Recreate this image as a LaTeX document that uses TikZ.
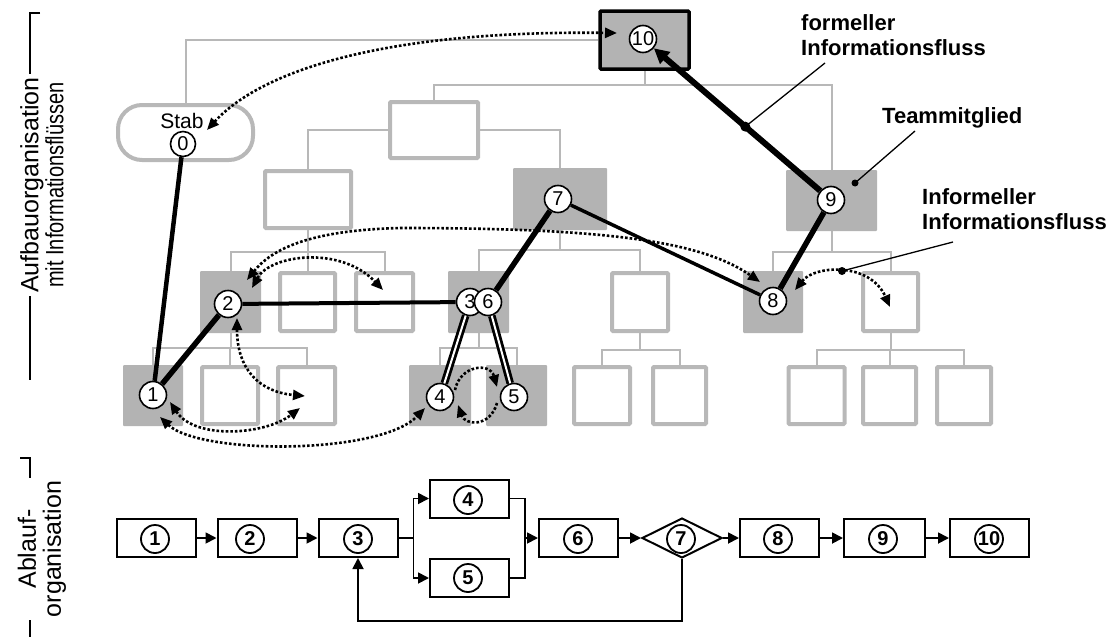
\documentclass[tikz,border=0pt]{standalone}
\usepackage{fontspec}
\setmainfont{Liberation Sans}
\usetikzlibrary{arrows.meta,shapes.geometric,shapes.misc,backgrounds,calc}
\definecolor{og}{RGB}{184,184,184}
\definecolor{fg}{RGB}{179,179,179}
\pgfdeclarelayer{tree}
\pgfdeclarelayer{boxes}
\pgfsetlayers{tree,boxes,main}
\tikzset{
  orgl/.style={draw=og,line width=2pt},
  wbox/.style 2 args={draw=og,line width=4pt,fill=white,minimum width=#1,minimum height=#2,inner sep=0pt,rounded corners=1pt},
  gbox/.style 2 args={fill=fg,minimum width=#1,minimum height=#2,inner sep=0pt,rounded corners=1pt},
  num/.style={circle,draw=black,fill=white,line width=1.6pt,inner sep=0pt,minimum size=27pt,font=\fontsize{20}{20}\selectfont},
  dbl/.style={line width=2.8pt,double=white,double distance=2pt},
  inf/.style={line width=2.6pt,dash pattern=on 2.6pt off 2pt},
  tip/.style={-{Triangle[length=12pt,width=10pt]}},
  tips/.style={{Triangle[length=12pt,width=10pt]}-{Triangle[length=12pt,width=10pt]}},
  lab/.style={font=\bfseries\fontsize{22}{25}\selectfont,align=left,inner sep=0pt},
  proc/.style={chamfered rectangle,chamfered rectangle sep=3pt,draw=black,line width=2pt,minimum width=79pt,minimum height=38pt,inner sep=0pt},
  pnum/.style={circle,draw=black,line width=1.8pt,minimum size=28pt,inner sep=0pt,font=\bfseries\fontsize{20}{20}\selectfont},
  arr/.style={line width=1.8pt,-{Triangle[length=11pt,width=11pt]}},
  side/.style={rotate=90,fill=white,align=center,inner sep=3pt,font=\fontsize{25}{25}\selectfont}
}
\begin{document}
\begin{tikzpicture}[x=1pt,y=-1pt]
\useasboundingbox (0,0) rectangle (1111,637);

% ---------- boxes of the organisation chart ----------
\begin{pgfonlayer}{boxes}
\node[gbox={89}{58},draw=black,line width=3.5pt] (B10) at (644.5,40) {};
\node[draw=og,line width=4pt,fill=white,rounded corners=24pt,minimum width=135pt,minimum height=55pt] (Stab) at (185.5,132.5) {};
\node[wbox={88}{56}] (Bm) at (434,130) {};
\node[wbox={86}{57}] (Bl) at (308,199.5) {};
\node[gbox={94}{62}] (B7) at (560,199) {};
\node[gbox={91}{61}] (B9) at (831.5,200.5) {};
% level 3
\node[gbox={61}{62}] (B2) at (230.5,302) {};
\node[wbox={55}{58}] (W1) at (307.5,302) {};
\node[wbox={57}{58}] (W2) at (384.5,302) {};
\node[gbox={61}{62}] (B36) at (478.5,302) {};
\node[wbox={56}{58}] (W3) at (640,302) {};
\node[gbox={60}{62}] (B8) at (773,302) {};
\node[wbox={55}{58}] (W4) at (890.5,302) {};
% level 4
\node[gbox={60}{61}] (B1) at (153,395.5) {};
\node[wbox={56}{57}] (W5) at (230,395.5) {};
\node[wbox={57}{57}] (W6) at (306.5,395.5) {};
\node[gbox={62}{61}] (B4) at (440,395.5) {};
\node[gbox={61}{61}] (B5) at (516.5,395.5) {};
\node[wbox={56}{57}] (W7) at (602,395.5) {};
\node[wbox={53}{57}] (W8) at (679.5,395.5) {};
\node[wbox={56}{57}] (W9) at (816.5,395.5) {};
\node[wbox={53}{57}] (W10) at (889.5,395.5) {};
\node[wbox={54}{57}] (W11) at (964,395.5) {};
\end{pgfonlayer}

% ---------- tree lines ----------
\begin{pgfonlayer}{tree}
\draw[orgl] (B10.west) -- (Stab.north |- B10.west) -- (Stab.north);
\draw[orgl] (B10.south) -- ++(0,14) coordinate (t1);
\draw[orgl] (Bm.north) |- (t1);
\draw[orgl] (B9.north) |- (t1);
\draw[orgl] (Bl.north) |- (Bm.west);
\draw[orgl] (B7.north) |- (Bm.east);
\draw[orgl] (Bl.south) -- ++(0,22) -| (B2.north);
\draw[orgl] (Bl.south) -- ++(0,22) -| (W1.north);
\draw[orgl] (Bl.south) -- ++(0,22) -| (W2.north);
\draw[orgl] (B2.south) -- ++(0,15) -| (B1.north);
\draw[orgl] (B2.south) -- ++(0,15) -| (W5.north);
\draw[orgl] (B2.south) -- ++(0,15) -| (W6.north);
\draw[orgl] (B7.south) -- ++(0,20) -| (B36.north);
\draw[orgl] (B7.south) -- ++(0,20) -| (W3.north);
\draw[orgl] (B36.south) -- ++(0,15) -| (B4.north);
\draw[orgl] (B36.south) -- ++(0,15) -| (B5.north);
\draw[orgl] (W3.south) -- ++(0,17) -| (W7.north);
\draw[orgl] (W3.south) -- ++(0,17) -| (W8.north);
\draw[orgl] (B9.south) -- ++(0,21) -| (B8.north);
\draw[orgl] (B9.south) -- ++(0,21) -| (W4.north);
\draw[orgl] (W4.south) -- ++(0,17) -| (W9.north);
\draw[orgl] (W4.south) -- ++(0,17) -| (W10.north);
\draw[orgl] (W4.south) -- ++(0,17) -| (W11.north);
\end{pgfonlayer}

% ---------- circles ----------
\node[font=\fontsize{21}{21}\selectfont,inner sep=0pt] (stabt) at (182,121) {Stab};
\node[num,minimum size=25pt] (c0) at (183,144) {0};
\node[num] (c10) at (643,39) {10};
\node[num] (c9) at (831,200) {9};
\node[num] (c8) at (773,301) {8};
\node[num] (c7) at (558,199) {7};
\node[num] (c3) at (470,302) {3};
\node[num] (c6) at (488,302) {6};
\node[num] (c2) at (228,304) {2};
\node[num] (c1) at (153,395) {1};
\node[num] (c4) at (440,397) {4};
\node[num] (c5) at (514,397) {5};

% ---------- formal flows ----------
\draw[line width=4.5pt] (c0) -- (c1);
\draw[line width=5.5pt] (c1) -- (c2);
\draw[line width=4pt] (c2) -- (c3);
\draw[dbl] (c3) -- (c4);
\draw[dbl] (c6) -- (c5);
\draw[line width=5.5pt] (c6) -- (c7);
\draw[line width=3.5pt] (c7) -- (c8);
\draw[line width=5.5pt] (c8) -- (c9);
\draw[line width=6pt,-{Triangle[length=15pt,width=15pt]}] (c9) -- (c10) coordinate[pos=0.45] (fdot);

% ---------- informal flows ----------
\coordinate (i1a) at (207,130); \coordinate (i1b) at (617,33);
\draw[inf,tips] (i1a) .. controls (260,72) and (380,30) .. (i1b);
\coordinate (i2a) at (247,280); \coordinate (i2m) at (400,228); \coordinate (i2b) at (760,282);
\draw[inf,tips] (i2a) .. controls (275,245) and (320,230) .. (i2m) .. controls (600,228) and (700,240) .. (i2b);
\coordinate (i3a) at (252,288); \coordinate (i3b) at (383,290);
\draw[inf,tips] (i3a) .. controls (270,255) and (340,245) .. (i3b);
\coordinate (i4a) at (237,318); \coordinate (i4b) at (305,396);
\draw[inf,tips] (i4a) .. controls (237,370) and (260,392) .. (i4b);
\coordinate (i5a) at (170,402); \coordinate (i5b) at (300,408);
\draw[inf,tips] (i5a) .. controls (195,440) and (265,435) .. (i5b);
\coordinate (i6a) at (160,417); \coordinate (i6b) at (425,408);
\draw[inf,tips] (i6a) .. controls (200,455) and (380,455) .. (i6b);
\coordinate (i7a) at (455,390); \coordinate (i7b) at (497,387);
\draw[inf,tip] (i7a) .. controls (460,365) and (490,362) .. (i7b);
\coordinate (i7c) at (497,403); \coordinate (i7d) at (458,405);
\draw[inf,tip] (i7c) .. controls (490,428) and (465,425) .. (i7d);
\coordinate (i8a) at (795,290); \coordinate (i8b) at (890,307);
\draw[inf,tips] (i8a) .. controls (815,265) and (870,262) .. (i8b);
\coordinate (i8dot) at (842,271);

% ---------- callouts ----------
\node[lab,anchor=north west] (Lf) at (801,14) {formeller\\Informationsfluss};
\node[lab,anchor=west] (Lt) at (882,118) {Teammitglied};
\node[lab,anchor=north west] (Li) at (922,188) {Informeller\\Informationsfluss};
\coordinate (lf) at (825,63);
\coordinate (tdot) at (855,183);
\coordinate (lt) at (915,131);
\coordinate (li) at (953,242);
\fill (fdot) circle (5pt);
\draw[line width=1.3pt] (fdot) -- (lf);
\fill (tdot) circle (3.5pt);
\draw[line width=1.3pt] (tdot) -- (lt);
\fill (i8dot) circle (4pt);
\draw[line width=1.3pt] (i8dot) -- (li);

% ---------- process (Ablauforganisation) ----------
\node[proc] (P1) at (156.5,538) {};
\node[proc] (P2) at (257,538) {};
\node[proc] (P3) at (358,538) {};
\node[proc] (P4) at (469.5,498.5) {};
\node[proc] (P5) at (469.5,578) {};
\node[proc] (P6) at (578.5,538) {};
\node[diamond,aspect=2,draw=black,line width=2pt,minimum width=80pt,minimum height=40pt,inner sep=0pt] (D7) at (682,538) {};
\node[proc] (P8) at (779.5,538) {};
\node[proc,minimum width=81pt] (P9) at (884.5,538) {};
\node[proc] (P10) at (989.5,538) {};
\node[pnum] (q1) at (155,539) {1};
\node[pnum] (q2) at (250,539) {2};
\node[pnum] (q3) at (358,539) {3};
\node[pnum] (q4) at (468,500) {4};
\node[pnum] (q5) at (468,578) {5};
\node[pnum] (q6) at (578,539) {6};
\node[pnum] (q7) at (681,539) {7};
\node[pnum] (q8) at (778,539) {8};
\node[pnum] (q9) at (883,539) {9};
\node[pnum] (q10) at (989,539) {10};

\draw[arr] (P1.east) -- (P2.west);
\draw[arr] (P2.east) -- (P3.west);
\draw[line width=1.8pt] (P3.east) -- ++(15,0) coordinate (split);
\draw[arr] (split) |- (P4.west);
\draw[arr] (split) |- (P5.west);
\coordinate (join) at (525,538);
\draw[line width=1.8pt] (P4.east) -| (join);
\draw[line width=1.8pt] (P5.east) -| (join);
\draw[arr] (join) -- (P6.west);
\draw[arr] (P6.east) -- (D7.west);
\draw[arr] (D7.east) -- (P8.west);
\draw[arr] (P8.east) -- (P9.west);
\draw[arr] (P9.east) -- (P10.west);
\draw[arr] (D7.south) -- ++(0,62) -| (P3.south);

% ---------- side labels ----------
\draw[line width=1.5pt] (40,13) -- (30,13) -- (30,380);
\draw[line width=1.5pt] (20,458) -- (30,458) -- (30,637);
\node[side] (LA) at (42,185) {Aufbauorganisation\\\scalebox{0.8}[1]{mit Informationsflüssen}};
\node[side] (LB) at (42,549) {Ablauf-\\organisation};
\end{tikzpicture}
\end{document}
